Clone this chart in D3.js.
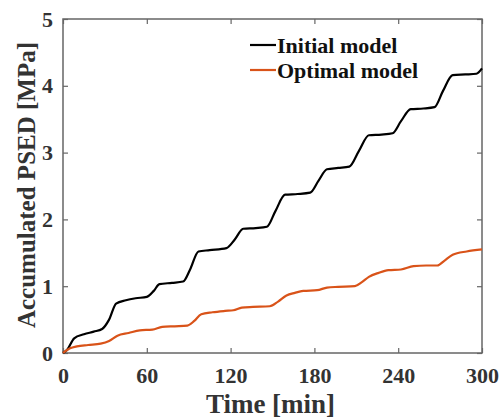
<!DOCTYPE html>
<html lang="en">
<head>
    <meta charset="UTF-8">
    <title>Accumulated PSED</title>
    <script src="https://cdn.jsdelivr.net/npm/d3@7"></script>
    <style>
        body { margin: 0; background: #fff; }
        text { font-family: 'Liberation Serif', 'Times New Roman', serif; font-weight: bold; }
    </style>
</head>
<body>
<script>
    // values: time [min], accumulated PSED [MPa]
    const initialTime = [0, 3, 8, 15, 22, 28, 33, 38, 45, 52, 60, 65, 69, 78, 86, 91, 97, 105, 117, 123, 129, 138, 146, 152, 159, 168, 177, 183, 189, 197, 205, 212, 219, 228, 236, 242, 249, 258, 266, 272, 279, 288, 296, 300]
    const initialPsed = [0, 0.05, 0.22, 0.28, 0.32, 0.36, 0.5, 0.74, 0.79, 0.82, 0.84, 0.93, 1.03, 1.05, 1.07, 1.25, 1.52, 1.54, 1.57, 1.7, 1.86, 1.87, 1.89, 2.12, 2.37, 2.38, 2.4, 2.58, 2.75, 2.77, 2.79, 3.03, 3.26, 3.27, 3.29, 3.47, 3.65, 3.66, 3.68, 3.92, 4.16, 4.17, 4.18, 4.26]
    const optimalTime = [0, 5, 10, 18, 27, 33, 39, 47, 55, 64, 71, 80, 89, 94, 99, 107, 116, 122, 128, 136, 148, 154, 160, 166, 172, 182, 189, 197, 209, 214, 219, 226, 233, 242, 251, 260, 268, 273, 279, 289, 300]
    const optimalPsed = [0, 0.07, 0.1, 0.12, 0.14, 0.18, 0.26, 0.3, 0.34, 0.35, 0.39, 0.4, 0.41, 0.48, 0.58, 0.61, 0.63, 0.64, 0.68, 0.69, 0.7, 0.77, 0.86, 0.9, 0.93, 0.94, 0.98, 0.99, 1.0, 1.06, 1.14, 1.2, 1.24, 1.25, 1.3, 1.31, 1.31, 1.38, 1.47, 1.52, 1.55]
    const xTicks = [0, 60, 120, 180, 240, 300]
    const yTicks = [0, 1, 2, 3, 4, 5]
    const seriesNames = ['Initial model', 'Optimal model']
    const colors = ['#000000', '#d95319']

    const [width, height] = [501, 418]
    const margin = {top: 19, right: 19, bottom: 65, left: 63}
    const innerW = width - margin.left - margin.right
    const innerH = height - margin.top - margin.bottom

    const svg = d3.select('body').append('svg')
        .attr('width', width)
        .attr('height', height)
    const g = svg.append('g').attr('transform', `translate(${margin.left}, ${margin.top})`)

    const x = d3.scaleLinear().domain([0, 300]).range([0, innerW])
    const y = d3.scaleLinear().domain([0, 5]).range([innerH, 0])

    const styleAxis = (sel, labels) => {
        sel.select('.domain').remove()
        sel.selectAll('line').attr('stroke', '#666').attr('stroke-width', 1.2)
        if (labels) {
            sel.selectAll('text').attr('fill', '#333').style('font-size', '22px')
        }
    }

    // box round the plot
    g.append('rect')
        .attr('width', innerW).attr('height', innerH)
        .attr('fill', 'none').attr('stroke', '#666').attr('stroke-width', 1.5)

    // ticks point inward on all four sides
    g.append('g').attr('transform', `translate(0, ${innerH})`)
        .call(d3.axisBottom(x).tickValues(xTicks).tickSizeInner(-5).tickSizeOuter(0).tickPadding(14))
        .call(s => styleAxis(s, true))
    g.append('g')
        .call(d3.axisTop(x).tickValues(xTicks).tickSizeInner(-5).tickSizeOuter(0).tickFormat(''))
        .call(s => styleAxis(s, false))
    g.append('g')
        .call(d3.axisLeft(y).tickValues(yTicks).tickFormat(d3.format('d')).tickSizeInner(-5).tickSizeOuter(0).tickPadding(10))
        .call(s => styleAxis(s, true))
    g.append('g').attr('transform', `translate(${innerW}, 0)`)
        .call(d3.axisRight(y).tickValues(yTicks).tickSizeInner(-5).tickSizeOuter(0).tickFormat(''))
        .call(s => styleAxis(s, false))

    const line = d3.line()
        .x(d => x(d[0]))
        .y(d => y(d[1]))
        .curve(d3.curveMonotoneX)

    const series = [
        d3.zip(initialTime, initialPsed),
        d3.zip(optimalTime, optimalPsed)
    ]
    series.forEach((pts, i) => {
        g.append('path')
            .datum(pts)
            .attr('fill', 'none')
            .attr('stroke', colors[i])
            .attr('stroke-width', 2.2)
            .attr('stroke-linejoin', 'round')
            .attr('d', line)
    })

    // legend
    const legend = g.append('g').attr('transform', `translate(${250 - margin.left}, ${45 - margin.top})`)
    seriesNames.forEach((name, i) => {
        const row = legend.append('g').attr('transform', `translate(0, ${i * 25})`)
        row.append('line').attr('x1', 0).attr('x2', 26)
            .attr('stroke', colors[i]).attr('stroke-width', 2.2)
        row.append('text').attr('x', 27).attr('dy', '0.35em')
            .attr('fill', '#111').style('font-size', '22px')
            .text(name)
    })

    // axis titles
    svg.append('text')
        .attr('x', margin.left + innerW / 2 - 2).attr('y', 413)
        .attr('text-anchor', 'middle')
        .attr('fill', '#333').style('font-size', '27px')
        .text('Time [min]')
    svg.append('text')
        .attr('transform', `translate(35, ${margin.top + innerH / 2 - 1}) rotate(-90)`)
        .attr('text-anchor', 'middle')
        .attr('fill', '#333').style('font-size', '25px')
        .text('Accumulated PSED [MPa]')
</script>
</body>
</html>
